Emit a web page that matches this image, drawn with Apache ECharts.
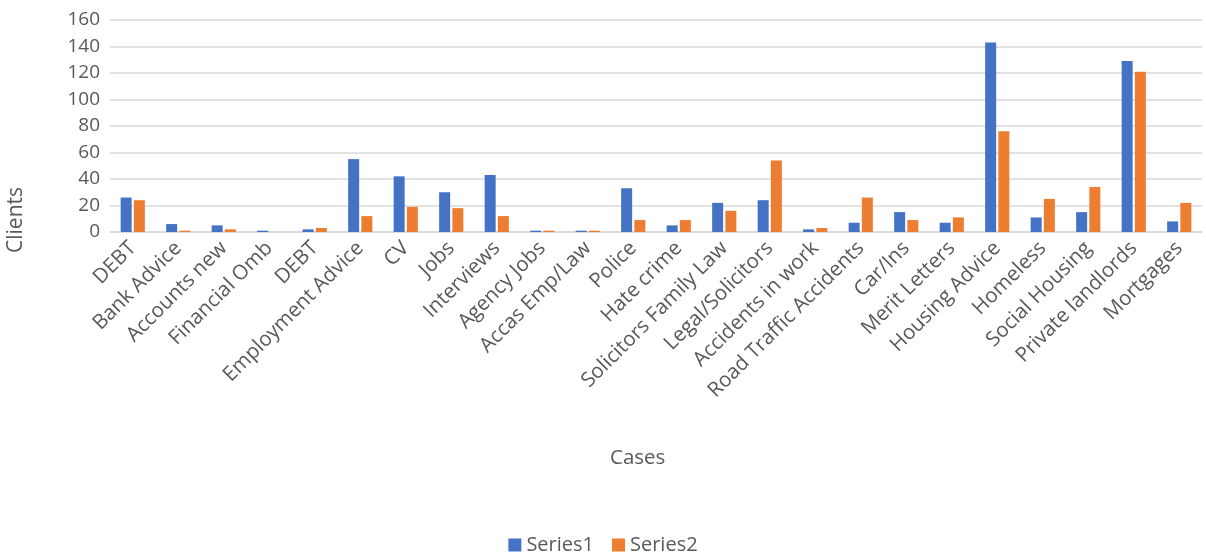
<!DOCTYPE html>
<html>
<head>
<meta charset="utf-8">
<script src="https://cdn.jsdelivr.net/npm/echarts@6/dist/echarts.min.js"></script>
<style>
  html, body { margin: 0; padding: 0; background: #fff; }
  #chart { width: 1206px; height: 554px; }
</style>
</head>
<body>
<div id="chart"></div>
<script>
// Case categories along the x axis
const categories = [
  'DEBT', 'Bank Advice', 'Accounts new', 'Financial Omb', 'DEBT',
  'Employment Advice', 'CV', 'Jobs', 'Interviews', 'Agency Jobs',
  'Accas Emp/Law', 'Police', 'Hate crime', 'Solicitors Family Law',
  'Legal/Solicitors', 'Accidents in work', 'Road Traffic Accidents',
  'Car/Ins', 'Merit Letters', 'Housing Advice', 'Homeless',
  'Social Housing', 'Private landlords', 'Mortgages'
];

// Client counts per case
const series1 = [26, 6, 5, 1, 2, 55, 42, 30, 43, 1, 1, 33, 5, 22, 24, 2, 7, 15, 7, 143, 11, 15, 129, 8];
const series2 = [24, 1, 2, 0, 3, 12, 19, 18, 12, 1, 1, 9, 9, 16, 54, 3, 26, 9, 11, 76, 25, 34, 121, 22];

const seriesNames = ['Series1', 'Series2'];
const yTicks = { min: 0, max: 160, interval: 20 };

const FONT = '"Open Sans", "Noto Sans", sans-serif';
const TEXT = '#595959';
const GRID = '#d9d9d9';

const chart = echarts.init(document.getElementById('chart'), null, { renderer: 'canvas' });

chart.setOption({
  animation: false,
  textStyle: { fontFamily: FONT },
  grid: { left: 110, right: 4, top: 20, bottom: 322, containLabel: false },
  legend: {
    data: seriesNames,
    bottom: -6,
    left: 'center',
    icon: 'rect',
    itemWidth: 13,
    itemHeight: 13,
    itemGap: 18,
    textStyle: { fontSize: 20, color: TEXT, fontFamily: FONT }
  },
  xAxis: {
    type: 'category',
    data: categories,
    axisLine: { show: true, lineStyle: { color: GRID, width: 1.5 } },
    axisTick: { show: false },
    axisLabel: {
      interval: 0,
      rotate: 45,
      margin: 13,
      fontSize: 20.5,
      color: TEXT,
      fontFamily: FONT
    }
  },
  yAxis: {
    type: 'value',
    min: yTicks.min,
    max: yTicks.max,
    interval: yTicks.interval,
    axisLine: { show: false },
    axisTick: { show: false },
    splitLine: { lineStyle: { color: GRID, width: 1.5 } },
    axisLabel: { fontSize: 19, color: TEXT, margin: 10, fontFamily: FONT }
  },
  graphic: [
    {
      type: 'text',
      left: 6,
      top: 187,
      rotation: Math.PI / 2,
      style: { text: 'Clients', fontSize: 21, fill: TEXT, fontFamily: FONT }
    },
    {
      type: 'text',
      left: 610,
      top: 448,
      style: { text: 'Cases', fontSize: 20.5, fill: TEXT, fontFamily: FONT }
    }
  ],
  series: [
    {
      name: seriesNames[0],
      type: 'bar',
      data: series1,
      barWidth: 11,
      barGap: '20%',
      itemStyle: { color: '#4472C4' }
    },
    {
      name: seriesNames[1],
      type: 'bar',
      data: series2,
      barWidth: 11,
      itemStyle: { color: '#ED7D31' }
    }
  ]
});
</script>
</body>
</html>
